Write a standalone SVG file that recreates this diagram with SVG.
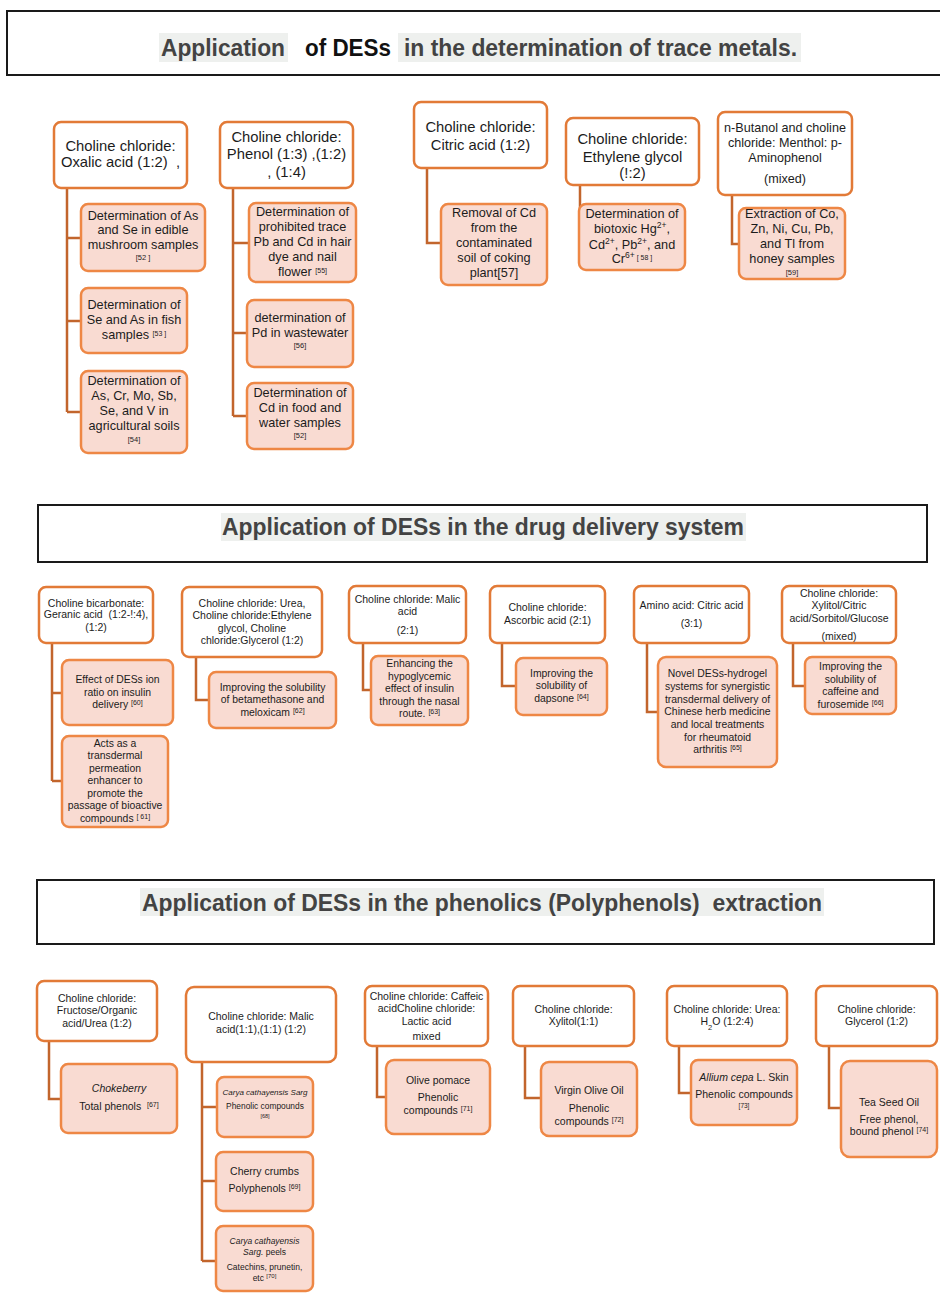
<svg xmlns="http://www.w3.org/2000/svg" width="940" height="1293" viewBox="0 0 940 1293">
<style>
.tbox{fill:#fff;stroke:#1a1a1a;stroke-width:2}
.hl{fill:#eef0ee}
.ttl{font-family:"Liberation Sans",Arial,sans-serif;font-weight:bold;font-size:24px;fill:#434343}
.hdr{fill:#fff;stroke:#e27a37;stroke-width:2.5}
.leaf{fill:#f9dbd2;stroke:#ee8745;stroke-width:2.5}
.conn{fill:none;stroke:#c2652c;stroke-width:2.5}
text{font-family:"Liberation Sans",Arial,sans-serif;fill:#1c1c1c;text-anchor:middle}
.h1{font-size:14.8px}
.c1{font-size:12.7px}
.e1{font-size:12.6px}
.h2{font-size:10.5px}
.c2{font-size:10.4px}
.h3{font-size:10.5px}
.c3{font-size:10.5px}
.r{font-size:7.5px}
.sup{font-size:7px;baseline-shift:super}
.sup1{font-size:8.5px;baseline-shift:super}
.sub{font-size:7.5px;baseline-shift:sub}
.it{font-style:italic}
</style>

<!-- Section 1 title -->
<g id="title1">
<rect class="tbox" x="7" y="11" width="940" height="64"/>
<rect class="hl" x="159" y="33" width="129" height="29"/>
<rect class="hl" x="398" y="33" width="403" height="29"/>
<text class="ttl" x="161" y="56" textLength="124" lengthAdjust="spacingAndGlyphs" style="text-anchor:start">Application</text>
<text class="ttl" x="305" y="56" textLength="86" lengthAdjust="spacingAndGlyphs" style="text-anchor:start;fill:#111">of DESs</text>
<text class="ttl" x="404" y="56" textLength="393" lengthAdjust="spacingAndGlyphs" style="text-anchor:start">in the determination of trace metals.</text>
</g>

<g id="connectors1">
<path class="conn" d="M67,188 V412 M67,238 H81 M67,321 H81 M67,412 H81"/>
<path class="conn" d="M233,188 V416 M233,243 H249 M233,333 H247 M233,416 H247"/>
<path class="conn" d="M427,168 V243 H441"/>
<path class="conn" d="M580,185 V207 H583"/>
<path class="conn" d="M732,195 V244 H739"/>
</g>

<g id="nA">
<rect class="hdr" x="54" y="122" width="133" height="66" rx="7"/>
<text class="h1" x="120.5" y="150.7">Choline chloride:</text>
<text class="h1" x="120.5" y="167.3" xml:space="preserve">Oxalic acid (1:2)  ,</text>
</g>
<g id="nA1">
<rect class="leaf" x="81" y="204" width="124" height="67" rx="7"/>
<text class="c1" x="143" y="220">Determination of As</text>
<text class="c1" x="143" y="234.3">and Se in edible</text>
<text class="c1" x="143" y="248.5">mushroom samples</text>
<text class="r" x="143" y="260">[52 ]</text>
</g>
<g id="nA2">
<rect class="leaf" x="81" y="288" width="106" height="65" rx="7"/>
<text class="c1" x="134" y="309">Determination of</text>
<text class="c1" x="134" y="324">Se and As in fish</text>
<text class="c1" x="134" y="339">samples <tspan class="sup">[53 ]</tspan></text>
</g>
<g id="nA3">
<rect class="leaf" x="81" y="371" width="106" height="82" rx="7"/>
<text class="c1" x="134" y="385">Determination of</text>
<text class="c1" x="134" y="400">As, Cr, Mo, Sb,</text>
<text class="c1" x="134" y="415">Se, and V in</text>
<text class="c1" x="134" y="430">agricultural soils</text>
<text class="r" x="134" y="441.7">[54]</text>
</g>

<g id="nB">
<rect class="hdr" x="220" y="122" width="133" height="66" rx="7"/>
<text class="h1" x="286.5" y="141.7">Choline chloride:</text>
<text class="h1" x="286.5" y="159">Phenol (1:3) ,(1:2)</text>
<text class="h1" x="286.5" y="176.7">, (1:4)</text>
</g>
<g id="nB1">
<rect class="leaf" x="249" y="203" width="107" height="79" rx="7"/>
<text class="c1" x="302.5" y="216">Determination of</text>
<text class="c1" x="302.5" y="230.7">prohibited trace</text>
<text class="c1" x="302.5" y="245.7">Pb and Cd in hair</text>
<text class="c1" x="302.5" y="260.7">dye and nail</text>
<text class="c1" x="302.5" y="275.7">flower <tspan class="sup">[55]</tspan></text>
</g>
<g id="nB2">
<rect class="leaf" x="247" y="300" width="106" height="67" rx="7"/>
<text class="c1" x="300" y="322.3">determination of</text>
<text class="c1" x="300" y="337.3">Pd in wastewater</text>
<text class="r" x="300" y="348.3">[56]</text>
</g>
<g id="nB3">
<rect class="leaf" x="247" y="383" width="106" height="66" rx="7"/>
<text class="c1" x="300" y="397.3">Determination of</text>
<text class="c1" x="300" y="412.3">Cd in food and</text>
<text class="c1" x="300" y="426.7">water samples</text>
<text class="r" x="300" y="438.3">[52]</text>
</g>

<g id="nC">
<rect class="hdr" x="414" y="102" width="133" height="66" rx="7"/>
<text class="h1" x="480.5" y="132.3">Choline chloride:</text>
<text class="h1" x="480.5" y="150">Citric acid (1:2)</text>
</g>
<g id="nC1">
<rect class="leaf" x="441" y="204" width="106" height="81" rx="7"/>
<text class="c1" x="494" y="216.7">Removal of Cd</text>
<text class="c1" x="494" y="231.7">from the</text>
<text class="c1" x="494" y="246.7">contaminated</text>
<text class="c1" x="494" y="261.7">soil of coking</text>
<text class="c1" x="494" y="276.7">plant[57]</text>
</g>

<g id="nD">
<rect class="hdr" x="566" y="118" width="133" height="67" rx="7"/>
<text class="h1" x="632.5" y="144.3">Choline chloride:</text>
<text class="h1" x="632.5" y="161.7">Ethylene glycol</text>
<text class="h1" x="632.5" y="178.3">(!:2)</text>
</g>
<g id="nD1">
<rect class="leaf" x="579" y="204" width="106" height="66" rx="7"/>
<text class="c1" x="632" y="218.3">Determination of</text>
<text class="c1" x="632" y="233">biotoxic Hg<tspan class="sup1">2+</tspan>,</text>
<text class="c1" x="632" y="248.5">Cd<tspan class="sup1">2+</tspan>, Pb<tspan class="sup1">2+</tspan>, and</text>
<text class="c1" x="632" y="263.3">Cr<tspan class="sup1">6+</tspan><tspan class="sup"> [ 58 ]</tspan></text>
</g>

<g id="nE">
<rect class="hdr" x="718" y="112" width="134" height="83" rx="7"/>
<text class="e1" x="785" y="131.7">n-Butanol and choline</text>
<text class="e1" x="785" y="146.7">chloride: Menthol: p-</text>
<text class="e1" x="785" y="161.7">Aminophenol</text>
<text class="e1" x="785" y="183.3">(mixed)</text>
</g>
<g id="nE1">
<rect class="leaf" x="739" y="208" width="106" height="71" rx="7"/>
<text class="c1" x="792" y="217.7">Extraction of Co,</text>
<text class="c1" x="792" y="232.7">Zn, Ni, Cu, Pb,</text>
<text class="c1" x="792" y="247.7">and Tl from</text>
<text class="c1" x="792" y="262.7">honey samples</text>
<text class="r" x="792" y="275">[59]</text>
</g>

<!-- Section 2 -->
<g id="title2">
<rect class="tbox" x="38" y="505" width="889" height="57"/>
<rect class="hl" x="221" y="513" width="525" height="28"/>
<text class="ttl" x="222" y="535" textLength="522" lengthAdjust="spacingAndGlyphs" style="text-anchor:start">Application of DESs in the drug delivery system</text>
</g>

<g id="connectors2">
<path class="conn" d="M52,643 V781 M52,693 H62 M52,781 H62"/>
<path class="conn" d="M196,657 V700 H209"/>
<path class="conn" d="M363,643 V690 H371"/>
<path class="conn" d="M502,643 V686 H516"/>
<path class="conn" d="M647,643 V712 H658"/>
<path class="conn" d="M793,643 V686 H805"/>
</g>

<g id="nF">
<rect class="hdr" x="39" y="587" width="114" height="56" rx="7"/>
<text class="h2" x="96" y="606.7">Choline bicarbonate:</text>
<text class="h2" x="96" y="618.3" xml:space="preserve">Geranic acid  (1:2-!:4),</text>
<text class="h2" x="96" y="630.7">(1:2)</text>
</g>
<g id="nF1">
<rect class="leaf" x="62" y="660" width="111" height="65" rx="7"/>
<text class="c2" x="117.5" y="683.3">Effect of DESs ion</text>
<text class="c2" x="117.5" y="695.7">ratio on insulin</text>
<text class="c2" x="117.5" y="708.3">delivery <tspan class="sup">[60]</tspan></text>
</g>
<g id="nF2">
<rect class="leaf" x="62" y="736" width="106" height="91" rx="7"/>
<text class="c2" x="115" y="746.7">Acts as a</text>
<text class="c2" x="115" y="759.3">transdermal</text>
<text class="c2" x="115" y="771.7">permeation</text>
<text class="c2" x="115" y="784">enhancer to</text>
<text class="c2" x="115" y="796.7">promote the</text>
<text class="c2" x="115" y="809.3">passage of bioactive</text>
<text class="c2" x="115" y="821.7">compounds <tspan class="sup">[ 61]</tspan></text>
</g>

<g id="nG">
<rect class="hdr" x="182" y="587" width="140" height="70" rx="7"/>
<text class="h2" x="252" y="606.7">Choline chloride: Urea,</text>
<text class="h2" x="252" y="619">Choline chloride:Ethylene</text>
<text class="h2" x="252" y="631.7">glycol, Choline</text>
<text class="h2" x="252" y="644">chloride:Glycerol (1:2)</text>
</g>
<g id="nG1">
<rect class="leaf" x="209" y="672" width="127" height="56" rx="7"/>
<text class="c2" x="272.5" y="691">Improving the solubility</text>
<text class="c2" x="272.5" y="703.3">of betamethasone and</text>
<text class="c2" x="272.5" y="715.7">meloxicam <tspan class="sup">[62]</tspan></text>
</g>

<g id="nH">
<rect class="hdr" x="349" y="586" width="117" height="57" rx="7"/>
<text class="h2" x="407.5" y="603.3">Choline chloride: Malic</text>
<text class="h2" x="407.5" y="615">acid</text>
<text class="h2" x="407.5" y="634">(2:1)</text>
</g>
<g id="nH1">
<rect class="leaf" x="371" y="656" width="97" height="69" rx="7"/>
<text class="c2" x="419.5" y="667.3">Enhancing the</text>
<text class="c2" x="419.5" y="680">hypoglycemic</text>
<text class="c2" x="419.5" y="692.3">effect of insulin</text>
<text class="c2" x="419.5" y="705">through the nasal</text>
<text class="c2" x="419.5" y="717.3">route. <tspan class="sup">[63]</tspan></text>
</g>

<g id="nI">
<rect class="hdr" x="490" y="586" width="115" height="57" rx="7"/>
<text class="h2" x="547.5" y="610.7">Choline chloride:</text>
<text class="h2" x="547.5" y="624.3">Ascorbic acid (2:1)</text>
</g>
<g id="nI1">
<rect class="leaf" x="516" y="658" width="91" height="57" rx="7"/>
<text class="c2" x="561.5" y="676.7">Improving the</text>
<text class="c2" x="561.5" y="689.3">solubility of</text>
<text class="c2" x="561.5" y="701.7">dapsone <tspan class="sup">[64]</tspan></text>
</g>

<g id="nJ">
<rect class="hdr" x="634" y="586" width="115" height="57" rx="7"/>
<text class="h2" x="691.5" y="609.3">Amino acid: Citric acid</text>
<text class="h2" x="691.5" y="627.3">(3:1)</text>
</g>
<g id="nJ1">
<rect class="leaf" x="658" y="657" width="119" height="110" rx="8"/>
<text class="c2" x="717.5" y="676.7">Novel DESs-hydrogel</text>
<text class="c2" x="717.5" y="690">systems for synergistic</text>
<text class="c2" x="717.5" y="702.7">transdermal delivery of</text>
<text class="c2" x="717.5" y="715">Chinese herb medicine</text>
<text class="c2" x="717.5" y="727.7">and local treatments</text>
<text class="c2" x="717.5" y="740.7">for rheumatoid</text>
<text class="c2" x="717.5" y="753.3">arthritis <tspan class="sup">[65]</tspan></text>
</g>

<g id="nK">
<rect class="hdr" x="782" y="586" width="114" height="57" rx="7"/>
<text class="h2" x="839" y="596.7">Choline chloride:</text>
<text class="h2" x="839" y="609.3">Xylitol/Citric</text>
<text class="h2" x="839" y="621.7">acid/Sorbitol/Glucose</text>
<text class="h2" x="839" y="640">(mixed)</text>
</g>
<g id="nK1">
<rect class="leaf" x="805" y="657" width="91" height="57" rx="7"/>
<text class="c2" x="850.5" y="670">Improving the</text>
<text class="c2" x="850.5" y="682.7">solubility of</text>
<text class="c2" x="850.5" y="695">caffeine and</text>
<text class="c2" x="850.5" y="707.7">furosemide <tspan class="sup">[66]</tspan></text>
</g>

<!-- Section 3 -->
<g id="title3">
<rect class="tbox" x="37" y="880" width="897" height="64"/>
<rect class="hl" x="140" y="888" width="684" height="28"/>
<text class="ttl" x="142" y="911" textLength="680" lengthAdjust="spacingAndGlyphs" style="text-anchor:start" xml:space="preserve">Application of DESs in the phenolics (Polyphenols)  extraction</text>
</g>

<g id="connectors3">
<path class="conn" d="M49,1041 V1099 H61"/>
<path class="conn" d="M202,1062 V1261 M202,1107 H217 M202,1181 H216 M202,1261 H216"/>
<path class="conn" d="M377,1046 V1097 H386"/>
<path class="conn" d="M525,1046 V1098 H541"/>
<path class="conn" d="M679,1046 V1093 H691"/>
<path class="conn" d="M829,1046 V1108 H841"/>
</g>

<g id="nL">
<rect class="hdr" x="37" y="981" width="120" height="60" rx="7"/>
<text class="h3" x="97" y="1001.7">Choline chloride:</text>
<text class="h3" x="97" y="1014">Fructose/Organic</text>
<text class="h3" x="97" y="1026.7">acid/Urea (1:2)</text>
</g>
<g id="nL1">
<rect class="leaf" x="61" y="1064" width="116" height="69" rx="7"/>
<text class="c3 it" x="119" y="1092.3">Chokeberry</text>
<text class="c3" x="119" y="1110" xml:space="preserve">Total phenols  <tspan class="sup">[67]</tspan></text>
</g>

<g id="nM">
<rect class="hdr" x="186" y="987" width="150" height="75" rx="8"/>
<text class="h3" x="261" y="1020">Choline chloride: Malic</text>
<text class="h3" x="261" y="1033.3">acid(1:1),(1:1) (1:2)</text>
</g>
<g id="nM1">
<rect class="leaf" x="217" y="1077" width="96" height="60" rx="7"/>
<text class="it" x="265" y="1095" style="font-size:8px">Carya cathayensis Sarg</text>
<text x="265" y="1109.3" style="font-size:8.4px">Phenolic compounds</text>
<text x="265" y="1117.7" style="font-size:5.5px">[68]</text>
</g>
<g id="nM2">
<rect class="leaf" x="216" y="1152" width="97" height="59" rx="7"/>
<text class="c3" x="264.5" y="1175">Cherry crumbs</text>
<text class="c3" x="264.5" y="1192.3">Polyphenols <tspan class="sup">[69]</tspan></text>
</g>
<g id="nM3">
<rect class="leaf" x="216" y="1226" width="97" height="65" rx="7"/>
<text class="it" x="264.5" y="1244.3" style="font-size:8.5px">Carya cathayensis</text>
<text x="264.5" y="1255" style="font-size:8.5px"><tspan class="it">Sarg.</tspan> peels</text>
<text x="264.5" y="1270" style="font-size:8.5px">Catechins, prunetin,</text>
<text x="264.5" y="1281" style="font-size:8.5px">etc <tspan style="font-size:6px;baseline-shift:super">[70]</tspan></text>
</g>

<g id="nN">
<rect class="hdr" x="365" y="986" width="123" height="60" rx="7"/>
<text class="h3" x="426.5" y="999.5">Choline chloride: Caffeic</text>
<text class="h3" x="426.5" y="1012">acidCholine chloride:</text>
<text class="h3" x="426.5" y="1024.5">Lactic acid</text>
<text class="h3" x="426.5" y="1040">mixed</text>
</g>
<g id="nN1">
<rect class="leaf" x="386" y="1060" width="104" height="74" rx="8"/>
<text class="c3" x="438" y="1084">Olive pomace</text>
<text class="c3" x="438" y="1100.7">Phenolic</text>
<text class="c3" x="438" y="1114">compounds <tspan class="sup">[71]</tspan></text>
</g>

<g id="nO">
<rect class="hdr" x="513" y="986" width="121" height="60" rx="7"/>
<text class="h3" x="573.5" y="1012.7">Choline chloride:</text>
<text class="h3" x="573.5" y="1025">Xylitol(1:1)</text>
</g>
<g id="nO1">
<rect class="leaf" x="541" y="1062" width="96" height="74" rx="8"/>
<text class="c3" x="589" y="1094.3">Virgin Olive Oil</text>
<text class="c3" x="589" y="1111.7">Phenolic</text>
<text class="c3" x="589" y="1125">compounds <tspan class="sup">[72]</tspan></text>
</g>

<g id="nP">
<rect class="hdr" x="667" y="986" width="120" height="60" rx="7"/>
<text class="h3" x="727" y="1012.7">Choline chloride: Urea:</text>
<text class="h3" x="727" y="1025">H<tspan class="sub">2</tspan>O (1:2:4)</text>
</g>
<g id="nP1">
<rect class="leaf" x="691" y="1060" width="106" height="65" rx="7"/>
<text class="c3" x="744" y="1080.7"><tspan class="it">Allium cepa</tspan> L. Skin</text>
<text class="c3" x="744" y="1098.3">Phenolic compounds</text>
<text x="744" y="1107.7" style="font-size:6.5px">[73]</text>
</g>

<g id="nQ">
<rect class="hdr" x="816" y="986" width="121" height="60" rx="7"/>
<text class="h3" x="876.5" y="1012.7">Choline chloride:</text>
<text class="h3" x="876.5" y="1025">Glycerol (1:2)</text>
</g>
<g id="nQ1">
<rect class="leaf" x="841" y="1061" width="96" height="96" rx="9"/>
<text class="c3" x="889" y="1106">Tea Seed Oil</text>
<text class="c3" x="889" y="1123.3">Free phenol,</text>
<text class="c3" x="889" y="1135">bound phenol <tspan class="sup">[74]</tspan></text>
</g>
</svg>
